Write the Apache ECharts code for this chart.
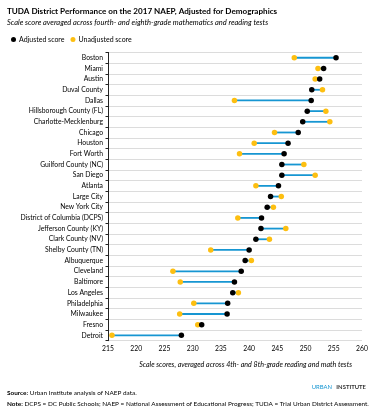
<!DOCTYPE html>
<html>
<head>
<meta charset="utf-8">
<script src="https://cdn.jsdelivr.net/npm/echarts@6/dist/echarts.min.js"></script>
<style>
html,body{margin:0;padding:0;background:#fff;}
#chart{width:379px;height:410px;}
</style>
</head>
<body>
<div id="chart"></div>
<script>
const categories = ["Boston","Miami","Austin","Duval County","Dallas","Hillsborough County (FL)","Charlotte-Mecklenburg","Chicago","Houston","Fort Worth","Guilford County (NC)","San Diego","Atlanta","Large City","New York City","District of Columbia (DCPS)","Jefferson County (KY)","Clark County (NV)","Shelby County (TN)","Albuquerque","Cleveland","Baltimore","Los Angeles","Philadelphia","Milwaukee","Fresno","Detroit"];
const adjusted = [255.4,253.2,252.5,251.1,251.0,250.3,249.5,248.7,246.9,246.2,245.8,245.8,245.2,243.8,243.2,242.2,242.1,241.2,240.0,239.3,238.6,237.4,237.1,236.2,236.1,231.6,228.0];
const unadjusted = [248.0,252.2,251.7,253.0,237.4,253.6,254.3,244.5,240.9,238.3,249.7,251.7,241.2,245.7,244.3,238.0,246.5,243.6,233.2,240.4,226.5,227.8,238.1,230.2,227.7,230.9,215.7];
const xTicks = [215,220,225,230,235,240,245,250,255,260];

const FONT = 'Lato';
const chart = echarts.init(document.getElementById('chart'), null, {renderer:'canvas'});
const rangeData = categories.map((c,i)=>[i, adjusted[i], unadjusted[i]]);

chart.setOption({
  animation:false,
  textStyle:{fontFamily:FONT},
  title:[
    {text:'TUDA District Performance on the 2017 NAEP, Adjusted for Demographics', left:2, top:2,
     textStyle:{fontFamily:FONT,fontSize:8.1,fontWeight:'bold',color:'#000'}},
    {text:'Scale score averaged across fourth- and eighth-grade mathematics and reading tests', left:2, top:14,
     textStyle:{fontFamily:FONT,fontSize:7.5,fontStyle:'italic',fontWeight:'normal',color:'#000'}},
    {text:'Scale scores, averaged across 4th- and 8th-grade reading and math tests', right:22, top:356,
     textStyle:{fontFamily:FONT,fontSize:7.1,fontStyle:'italic',fontWeight:'normal',color:'#000'}},
    {text:'{a|URBAN} {b|INSTITUTE}', right:8, top:373,
     textStyle:{rich:{a:{fontFamily:FONT,fontSize:5.9,color:'#1696d2',fontWeight:'normal'},b:{fontFamily:FONT,fontSize:5.9,color:'#333',fontWeight:'bold'}}}},
    {text:'{b|Source:} Urban Institute analysis of NAEP data.', left:2, top:385,
     textStyle:{rich:{b:{fontFamily:FONT,fontSize:6.4,fontWeight:'bold',color:'#000'}},fontFamily:FONT,fontSize:6.4,fontWeight:'normal',color:'#000'}},
    {text:'{b|Note:} DCPS = DC Public Schools; NAEP = National Assessment of Educational Progress; TUDA = Trial Urban District Assessment.', left:2, top:396,
     textStyle:{rich:{b:{fontFamily:FONT,fontSize:6.4,fontWeight:'bold',color:'#000'}},fontFamily:FONT,fontSize:6.4,fontWeight:'normal',color:'#000'}}
  ],
  legend:{
    left:6, top:31, itemWidth:5, itemHeight:5, itemGap:6,
    textStyle:{fontFamily:FONT,fontSize:7,color:'#000',padding:[0,0,0,-2]},
    data:[{name:'Adjusted score',icon:'circle'},{name:'Unadjusted score',icon:'circle'}]
  },
  grid:{left:108, right:17, top:52.4, bottom:69.3, containLabel:false},
  xAxis:{
    type:'value', min:215, max:260, interval:5,
    axisLine:{show:false}, axisTick:{show:false}, splitLine:{show:false},
    axisLabel:{fontFamily:FONT,fontSize:6.8,color:'#000',margin:5,
      formatter:v=>xTicks.includes(v)?String(v):''}
  },
  yAxis:{
    type:'category', data:categories, inverse:true, boundaryGap:true,
    axisLine:{show:true,lineStyle:{color:'#222',width:1}},
    axisTick:{show:true,length:2.5,lineStyle:{color:'#222'}},
    splitLine:{show:true,lineStyle:{color:'#dcdcdc',width:1}},
    axisLabel:{fontFamily:FONT,fontSize:6.8,color:'#000',margin:5}
  },
  series:[
    {type:'custom', name:'range', silent:true, z:1,
     encode:{x:[1,2], y:0},
     data:rangeData,
     renderItem:(params, api)=>{
       const p1 = api.coord([api.value(1), api.value(0)]);
       const p2 = api.coord([api.value(2), api.value(0)]);
       return {type:'line', shape:{x1:p1[0],y1:p1[1],x2:p2[0],y2:p2[1]},
               style:{stroke:'#1696d2',lineWidth:1.8}};
     }},
    {type:'scatter', name:'Unadjusted score', z:2, symbol:'circle', symbolSize:5.5,
     itemStyle:{color:'#fdbf11',opacity:1},
     data:categories.map((c,i)=>[unadjusted[i], c])},
    {type:'scatter', name:'Adjusted score', z:3, symbol:'circle', symbolSize:5.5,
     itemStyle:{color:'#000',opacity:1},
     data:categories.map((c,i)=>[adjusted[i], c])}
  ]
});
</script>
</body>
</html>
